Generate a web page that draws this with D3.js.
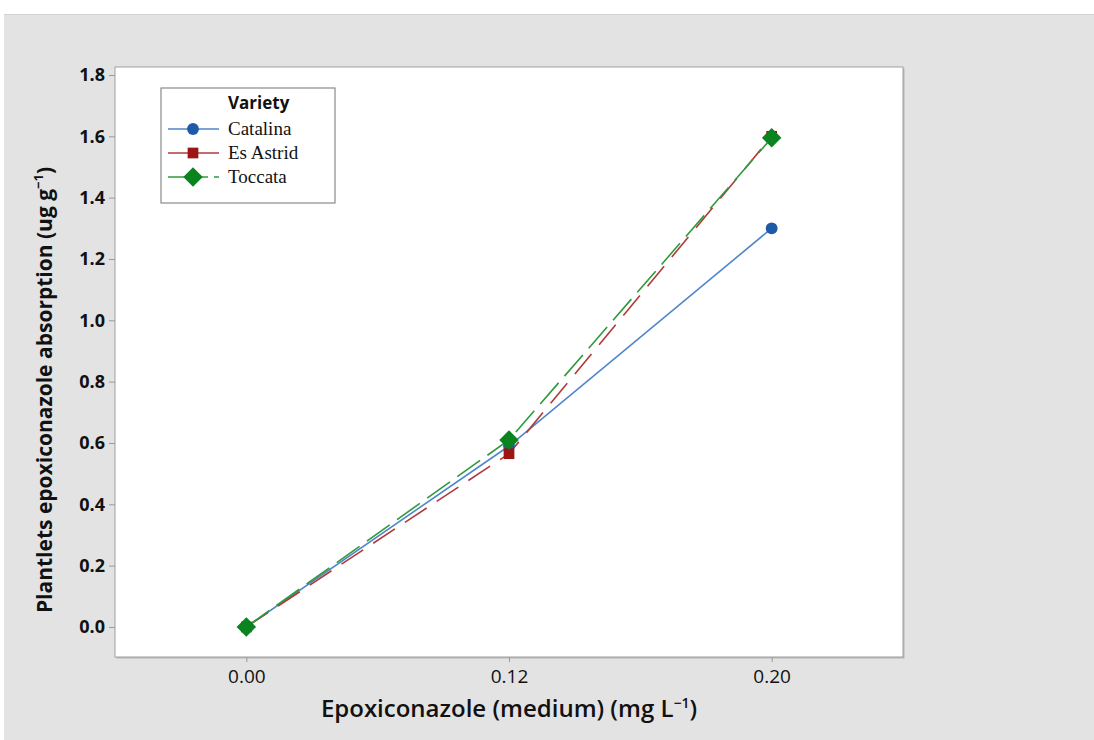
<!DOCTYPE html>
<html>
<head>
<meta charset="utf-8">
<script src="https://cdn.jsdelivr.net/npm/d3@7"></script>
<style>
body { margin: 0; background: #fff; }
svg { display: block; }
</style>
</head>
<body>
<script>
// data
var doses = ["0.00", "0.12", "0.20"];
var catalina = [0.0, 0.59, 1.30];
var esAstrid = [0.0, 0.565, 1.60];
var toccata = [0.0, 0.61, 1.595];
var yTicks = [0.0, 0.2, 0.4, 0.6, 0.8, 1.0, 1.2, 1.4, 1.6, 1.8];

var series = [
    {name: "Catalina", values: catalina, color: "#1f5aa8", line: "#4f86cc", dash: null, shape: d3.symbolCircle, size: 110, rot: 0},
    {name: "Es Astrid", values: esAstrid, color: "#9c1414", line: "#b03a3a", dash: "26,12", shape: d3.symbolSquare, size: 115, rot: 0},
    {name: "Toccata", values: toccata, color: "#0b841f", line: "#2f9a3c", dash: "28,9", shape: d3.symbolSquare, size: 190, rot: 45}
];

var width = 1094, height = 740;
var box = {left: 115, right: 903, top: 67, bottom: 657};
var sans = "'Open Sans', 'DejaVu Sans', sans-serif";

var svg = d3.select("body").append("svg")
    .attr("width", width)
    .attr("height", height);

// grey panel
svg.append("rect")
    .attr("x", 4).attr("y", 14)
    .attr("width", width - 4).attr("height", height - 14)
    .attr("fill", "#e3e3e3");
svg.append("line")
    .attr("x1", 4).attr("x2", width).attr("y1", 14.5).attr("y2", 14.5)
    .attr("stroke", "#d2d2d2");

var x = d3.scalePoint()
    .domain(doses)
    .range([box.left, box.right])
    .padding(0.5);

var y = d3.scaleLinear()
    .domain([-0.098, 1.826])
    .range([box.bottom, box.top]);

// plot area with a little shadow
svg.append("rect")
    .attr("x", box.left + 1.5).attr("y", box.top + 1.5)
    .attr("width", box.right - box.left).attr("height", box.bottom - box.top)
    .attr("fill", "#b8b8b8");
svg.append("rect")
    .attr("x", box.left).attr("y", box.top)
    .attr("width", box.right - box.left).attr("height", box.bottom - box.top)
    .attr("fill", "#fff")
    .attr("stroke", "#a0a0a0")
    .attr("stroke-width", 1);

// y axis
var yAxis = svg.append("g")
    .attr("transform", "translate(" + box.left + ",0)")
    .call(d3.axisLeft(y).tickValues(yTicks).tickFormat(d3.format(".1f")).tickSize(6).tickPadding(4));
yAxis.select(".domain").remove();
yAxis.selectAll(".tick line").attr("stroke", "#999");
yAxis.selectAll("text")
    .attr("font-family", sans)
    .attr("font-weight", "bold")
    .attr("font-size", "18px")
    .attr("fill", "#111");

// x axis
var xAxis = svg.append("g")
    .attr("transform", "translate(0," + box.bottom + ")")
    .call(d3.axisBottom(x).tickSize(5).tickPadding(8));
xAxis.select(".domain").remove();
xAxis.selectAll(".tick line").attr("stroke", "#999");
xAxis.selectAll("text")
    .attr("font-family", sans)
    .attr("font-size", "19px")
    .attr("fill", "#111");

// axis titles
svg.append("text")
    .attr("x", 509)
    .attr("y", 717)
    .attr("text-anchor", "middle")
    .attr("font-family", sans)
    .attr("font-size", "24px")
    .attr("font-weight", 600)
    .attr("fill", "#111")
    .html("Epoxiconazole (medium) (mg L<tspan font-size='14px' dy='-9'>\u22121</tspan><tspan dy='9'>)</tspan>");

svg.append("text")
    .attr("transform", "translate(52,390) rotate(-90)")
    .attr("text-anchor", "middle")
    .attr("font-family", sans)
    .attr("font-size", "21px")
    .attr("font-weight", "bold")
    .attr("fill", "#111")
    .html("Plantlets epoxiconazole absorption (ug g<tspan font-size='13px' dy='-9'>\u22121</tspan><tspan dy='9'>)</tspan>");

// lines and markers
var line = d3.line()
    .x(function(d, i) { return x(doses[i]); })
    .y(function(d) { return y(d); });

var plot = svg.append("g");

series.forEach(function(s) {
    plot.append("path")
        .datum(s.values)
        .attr("d", line)
        .attr("fill", "none")
        .attr("stroke", s.line)
        .attr("stroke-width", 1.6)
        .attr("stroke-dasharray", s.dash);
});

series.forEach(function(s) {
    plot.selectAll(null)
        .data(s.values)
        .enter()
        .append("path")
        .attr("d", d3.symbol().type(s.shape).size(s.size))
        .attr("transform", function(d, i) {
            return "translate(" + x(doses[i]) + "," + y(d) + ") rotate(" + s.rot + ")";
        })
        .attr("fill", s.color);
});

// legend
var lg = svg.append("g").attr("transform", "translate(161,88)");
lg.append("rect")
    .attr("width", 174).attr("height", 115)
    .attr("fill", "#fff")
    .attr("stroke", "#8a8a8a")
    .attr("stroke-width", 1.2);
lg.append("text")
    .attr("x", 67).attr("y", 21)
    .attr("font-family", sans)
    .attr("font-weight", "bold")
    .attr("font-size", "17px")
    .attr("fill", "#111")
    .text("Variety");

series.forEach(function(s, i) {
    var row = lg.append("g").attr("transform", "translate(0," + (41 + i * 24) + ")");
    row.append("line")
        .attr("x1", 7).attr("x2", 58)
        .attr("stroke", s.line)
        .attr("stroke-width", 1.6)
        .attr("stroke-dasharray", s.name === "Toccata" ? "40,6" : null);
    row.append("path")
        .attr("d", d3.symbol().type(s.shape).size(s.size))
        .attr("transform", "translate(32,0) rotate(" + s.rot + ")")
        .attr("fill", s.color);
    row.append("text")
        .attr("x", 67).attr("y", 6)
        .attr("font-family", "'Liberation Serif', 'DejaVu Serif', serif")
        .attr("font-size", "19px")
        .attr("fill", "#111")
        .text(s.name);
});
</script>
</body>
</html>
